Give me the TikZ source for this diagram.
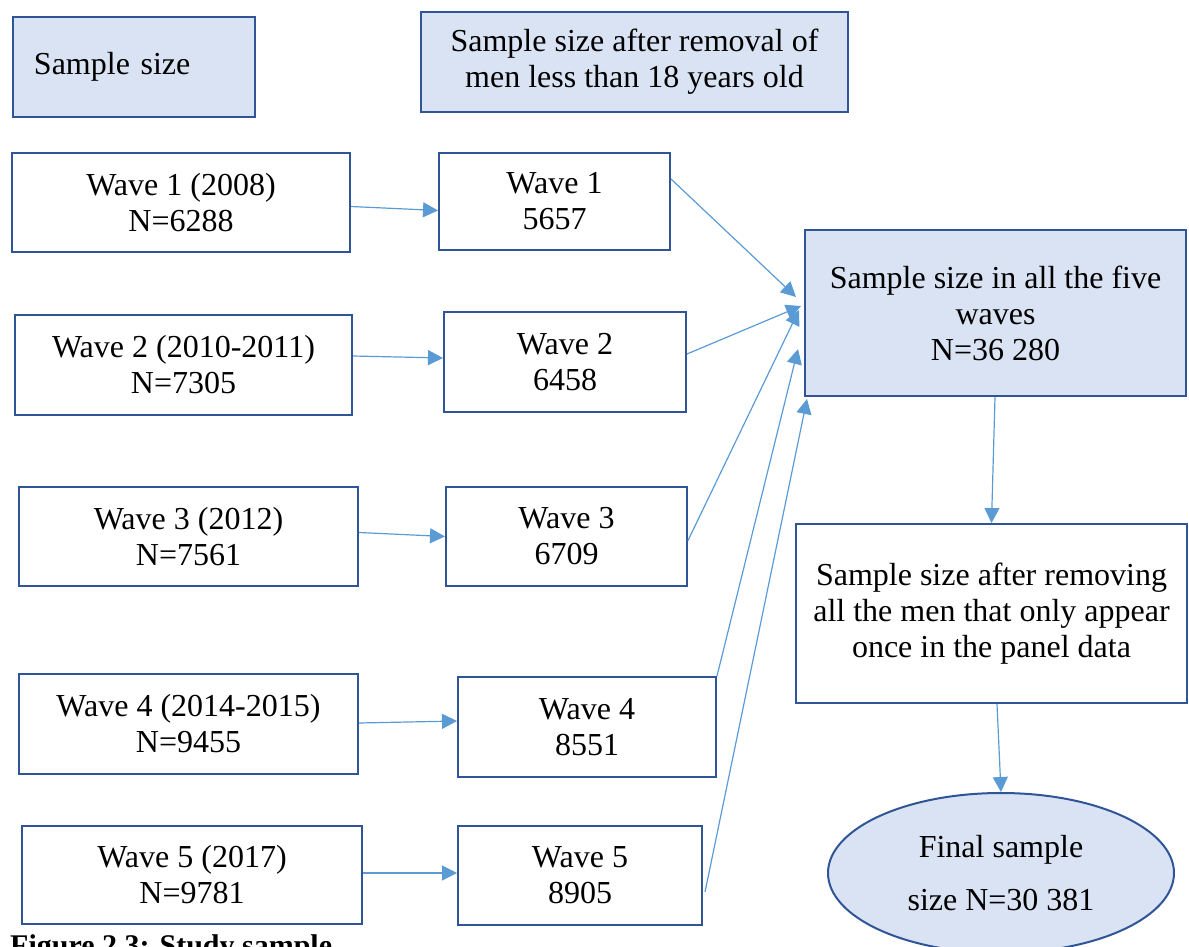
\documentclass[tikz,border=0pt]{standalone}
\usepackage{fontspec}
\setmainfont{Liberation Serif}
\usetikzlibrary{arrows.meta,shapes.geometric,calc}
\definecolor{boxfill}{HTML}{DAE3F3}
\definecolor{boxline}{HTML}{2F5597}
\definecolor{arrowc}{HTML}{5B9BD5}
\begin{document}
\begin{tikzpicture}[x=1pt,y=-1pt,
  every node/.style={font=\fontsize{32}{36}\selectfont},
  box/.style={draw=boxline,line width=2pt,rectangle,inner sep=0pt,align=center,fill=white},
  bluebox/.style={box,fill=boxfill},
  conn/.style={draw=arrowc,line width=1.2pt,-{Triangle[length=15pt,width=15pt]}}]
\useasboundingbox (0,0) rectangle (1189,947);
\clip (0,0) rectangle (1189,947);
% header boxes
\node[bluebox,minimum width=242pt,minimum height=100pt,text width=200pt,align=left,anchor=north west] (hs) at (12,16) {\raisebox{6pt}{Sample size}};
\node[bluebox,minimum width=427pt,minimum height=100pt] (hr) at (634.5,62) {Sample size after removal of\\men less than 18 years old};
% wave boxes
\node[box,minimum width=338pt,minimum height=99pt] (w1) at (181,202.5) {Wave 1 (2008)\\N=6288};
\node[box,minimum width=337pt,minimum height=100pt] (w2) at (183.5,365) {Wave 2 (2010-2011)\\N=7305};
\node[box,minimum width=339pt,minimum height=99pt] (w3) at (188.5,536.5) {Wave 3 (2012)\\N=7561};
\node[box,minimum width=339pt,minimum height=100pt] (w4) at (188.5,724) {Wave 4 (2014-2015)\\N=9455};
\node[box,minimum width=340pt,minimum height=98pt] (w5) at (192,875) {Wave 5 (2017)\\N=9781};
% removal boxes
\node[box,minimum width=231pt,minimum height=97pt] (r1) at (554.5,201.5) {Wave 1\\5657};
\node[box,minimum width=242pt,minimum height=100pt] (r2) at (565,362) {Wave 2\\6458};
\node[box,minimum width=241pt,minimum height=99pt] (r3) at (566.5,536.5) {Wave 3\\6709};
\node[box,minimum width=258pt,minimum height=100pt] (r4) at (587,727) {Wave 4\\8551};
\node[box,minimum width=244pt,minimum height=99pt] (r5) at (580,875.5) {Wave 5\\8905};
% right column
\node[bluebox,minimum width=381pt,minimum height=166pt] (all) at (995.5,313) {Sample size in all the five\\waves\\N=36 280};
\node[box,minimum width=391pt,minimum height=179pt] (rem) at (991.5,613.5) {Sample size after removing\\all the men that only appear\\once in the panel data};
\node[draw=boxline,line width=2pt,fill=boxfill,ellipse,inner sep=0pt,minimum width=346pt,minimum height=160pt,align=center,font=\fontsize{32}{53}\selectfont] (fin) at (1001,873) {Final sample\\size N=30 381};
% arrows wave -> removal
\draw[conn] ($(w1.east)+(0,4)$) -- ($(r1.west)+(0,9)$);
\draw[conn] ($(w2.east)+(0,-9)$) -- ($(r2.west)+(0,-4)$);
\draw[conn] ($(w3.east)+(0,-4)$) -- (r3.west);
\draw[conn] ($(w4.east)+(0,-1)$) -- ($(r4.west)+(0,-6)$);
\draw[conn] ($(w5.east)+(0,-2)$) -- ($(r5.west)+(0,-2.5)$);
% arrows removal -> all
\draw[conn] ($(r1.north east)+(0,27)$) -- ($(all.north west)+(-8,68)$);
\draw[conn] ($(r2.north east)+(0,43)$) -- ($(all.north west)+(-3,77)$);
\draw[conn] ($(r3.east)+(0,4)$) -- ($(all.north west)+(-5,81)$);
\draw[conn] (r4.north east) -- ($(all.north west)+(-6,120)$);
\draw[conn] ($(r5.north east)+(2,67)$) -- ($(all.south west)+(3,2)$);
% right column arrows
\draw[conn] ($(all.south)+(-0.5,0)$) -- (rem.north);
\draw[conn] ($(rem.south)+(5.5,0)$) -- (fin.north);
% caption (cut off at the bottom, as in the reference)
\node[anchor=base west,inner sep=0pt,font=\fontsize{30}{36}\selectfont\bfseries] (cap) at (10,955) {Figure 2.3: Study sample};
\end{tikzpicture}
\end{document}
